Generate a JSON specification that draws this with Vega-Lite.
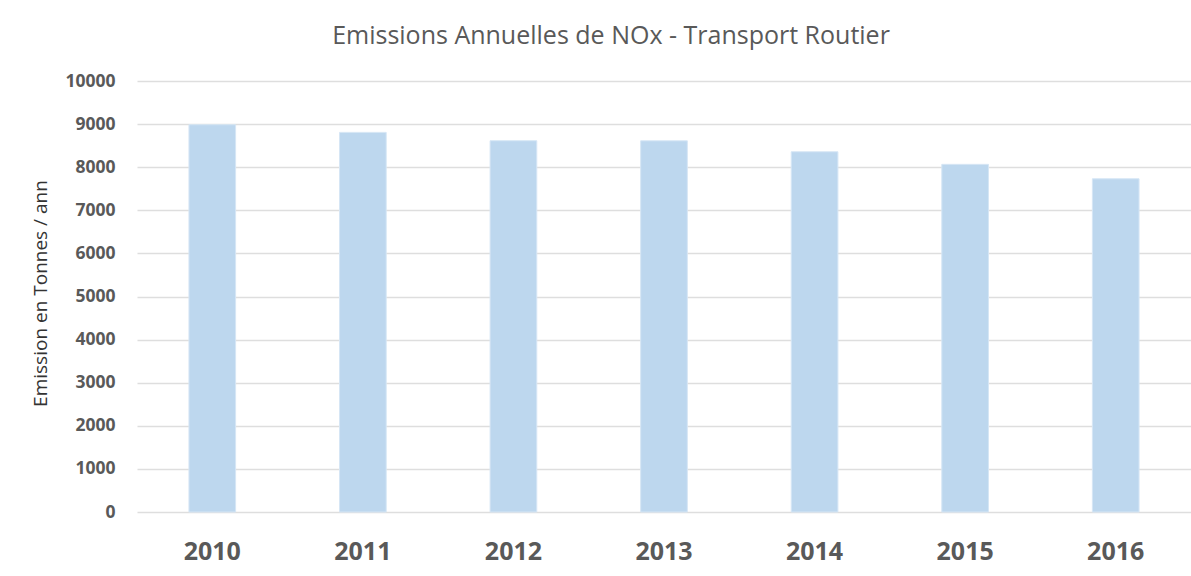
{
  "$schema": "https://vega.github.io/schema/vega-lite/v6.json",
  "autosize": "none",
  "padding": {"left": 137, "top": 81, "right": 0, "bottom": 64},
  "width": 1054,
  "height": 431,
  "background": "white",
  "title": {
    "text": "Emissions Annuelles de NOx - Transport Routier",
    "anchor": "middle",
    "dx": -53,
    "offset": 23,
    "font": "Open Sans",
    "fontSize": 25,
    "fontWeight": "normal",
    "color": "#595959"
  },
  "data": {
    "values": [
      {"year": "2010", "emission": 8985},
      {"year": "2011", "emission": 8808},
      {"year": "2012", "emission": 8614},
      {"year": "2013", "emission": 8612},
      {"year": "2014", "emission": 8358},
      {"year": "2015", "emission": 8066},
      {"year": "2016", "emission": 7731}
    ]
  },
  "mark": {"type": "bar", "color": "#bdd7ee", "stroke": "#d6e6f5", "strokeWidth": 1},
  "encoding": {
    "x": {
      "field": "year",
      "type": "nominal",
      "scale": {"paddingInner": 0.69, "paddingOuter": 0.345},
      "axis": {
        "title": null,
        "labelAngle": 0,
        "domain": false,
        "ticks": false,
        "labelPadding": 27,
        "labelFont": "Open Sans",
        "labelFontSize": 25,
        "labelFontWeight": "bold",
        "labelColor": "#595959"
      }
    },
    "y": {
      "field": "emission",
      "type": "quantitative",
      "scale": {"domain": [0, 10000], "nice": false},
      "axis": {
        "title": "Emission en Tonnes / ann",
        "values": [0, 1000, 2000, 3000, 4000, 5000, 6000, 7000, 8000, 9000, 10000],
        "format": "d",
        "domain": false,
        "ticks": false,
        "grid": true,
        "gridColor": "#dedede",
        "gridWidth": 1.5,
        "labelPadding": 22,
        "labelFont": "Open Sans",
        "labelFontSize": 17.5,
        "labelFontWeight": "bold",
        "labelColor": "#595959",
        "titleFont": "Open Sans",
        "titleFontSize": 19,
        "titleFontWeight": "normal",
        "titleColor": "#333333",
        "titleAngle": -90,
        "titleBaseline": "middle",
        "titleAlign": "center",
        "titleX": -97,
        "titleY": 212
      }
    }
  },
  "config": {"view": {"stroke": null}}
}
